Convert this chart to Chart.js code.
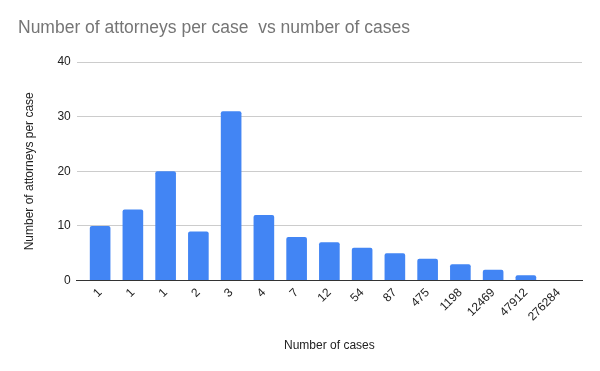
<!DOCTYPE html>
<html>
<head>
<meta charset="utf-8">
<script src="https://cdn.jsdelivr.net/npm/chart.js@4"></script>
<style>
  html, body { margin: 0; padding: 0; background: #fff; }
  #wrap { width: 600px; height: 371px; position: relative; }
</style>
</head>
<body>
<div id="wrap"><canvas id="myChart"></canvas></div>
<script>
const cases = ['1', '1', '1', '2', '3', '4', '7', '12', '54', '87', '475', '1198', '12469', '47912', '276284'];
const attorneys = [10, 13, 20, 9, 31, 12, 8, 7, 6, 5, 4, 3, 2, 1, 0];
const yTicks = [0, 10, 20, 30, 40];

Chart.defaults.font.family = "'Liberation Sans', Arial, sans-serif";

// bars sit a few px inside the gridlines, like the sheets chart
const insetX = {
  id: 'insetX',
  afterLayout(chart) {
    const x = chart.scales.x;
    x._startPixel += 7;
    x._endPixel -= 7;
    x._length -= 14;
  }
};

const ctx = document.getElementById('myChart');
const chart = new Chart(ctx, {
  type: 'bar',
  data: {
    labels: cases,
    datasets: [{
      label: 'Number of attorneys per case',
      data: attorneys,
      backgroundColor: '#4285f4',
      borderRadius: { topLeft: 2, topRight: 2 },
      borderSkipped: 'bottom',
      categoryPercentage: 1,
      barPercentage: 0.63
    }]
  },
  plugins: [insetX],
  options: {
    responsive: true,
    maintainAspectRatio: false,
    animation: false,
    layout: { padding: { left: 18, right: 18, top: 0, bottom: 14 } },
    plugins: {
      legend: { display: false },
      tooltip: { enabled: false },
      title: {
        display: true,
        text: 'Number of attorneys per case  vs number of cases',
        align: 'start',
        color: '#757575',
        font: { size: 17.5, weight: 'normal' },
        padding: { top: 18, bottom: 23 }
      }
    },
    scales: {
      x: {
        grid: { display: false, drawTicks: false },
        border: { color: '#333', width: 1 },
        ticks: { color: '#222', font: { size: 12 }, maxRotation: 45, minRotation: 45, padding: 5 },
        title: { display: true, text: 'Number of cases', color: '#222', font: { size: 12 }, padding: { top: 9.5 } }
      },
      y: {
        min: 0,
        max: 40,
        afterBuildTicks: (axis) => { axis.ticks = yTicks.map(v => ({ value: v })); },
        grid: { color: '#cccccc', drawTicks: false },
        border: { display: false },
        ticks: { color: '#222', font: { size: 12 }, padding: 6 },
        title: { display: true, text: 'Number of attorneys per case', color: '#222', font: { size: 12 }, padding: { bottom: 15 } }
      }
    }
  }
});
</script>
</body>
</html>
